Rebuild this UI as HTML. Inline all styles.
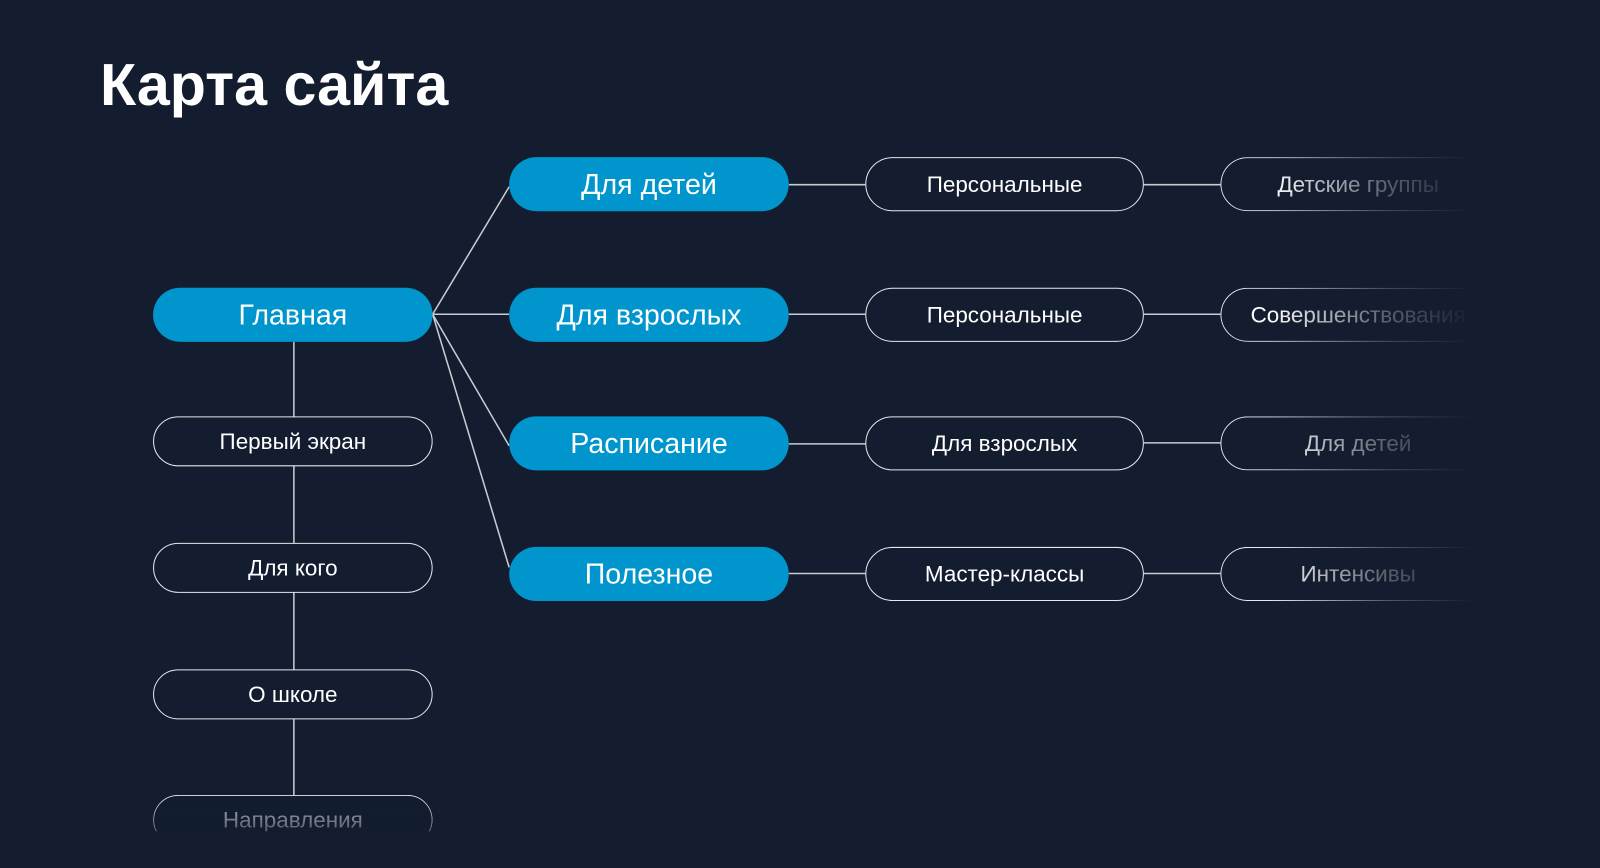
<!DOCTYPE html>
<html><head><meta charset="utf-8"><style>
html,body{margin:0;padding:0;background:#131d2f;width:1600px;height:868px;overflow:hidden}
#w{position:absolute;left:0;top:0;width:1568px;height:851px;transform:scale(1.0204);transform-origin:0 0;font-family:"Liberation Sans",sans-serif;color:#fff}
h1{position:absolute;left:98px;top:50px;margin:0;font-size:58px;font-weight:bold;letter-spacing:0}
.p{position:absolute;box-sizing:border-box;border-radius:27px;display:flex;align-items:center;justify-content:center;white-space:nowrap}
.f{background:#0095cc;font-size:28px}
.o{border:1.5px solid #e6e8ec;font-size:22px;background:#131d2f}
.c1{left:150px;width:274px}
.c2{left:499px;width:274px;height:53px}
.c3{left:848px;width:273px;height:53px}
.c4{left:1196px;width:270px;height:53px;background:transparent;-webkit-mask-image:linear-gradient(90deg,#000 18%,rgba(0,0,0,.3) 60%,transparent 92%);mask-image:linear-gradient(90deg,#000 18%,rgba(0,0,0,.3) 60%,transparent 92%)}
svg{position:absolute;left:0;top:0}
</style></head><body><div id="w">
<h1>Карта сайта</h1>
<svg width="1568" height="851"><g stroke="#c9ccd2" stroke-width="1.5" fill="none">
<line x1="288" y1="335" x2="288" y2="780"/>
<line x1="424" y1="308" x2="499" y2="183"/>
<line x1="424" y1="308" x2="499" y2="308"/>
<line x1="424" y1="308" x2="499" y2="437"/>
<line x1="424" y1="308" x2="499" y2="556"/>
<line x1="773" y1="181" x2="848" y2="181"/><line x1="1121" y1="181" x2="1196" y2="181"/>
<line x1="773" y1="308" x2="848" y2="308"/><line x1="1121" y1="308" x2="1196" y2="308"/>
<line x1="773" y1="435" x2="848" y2="435"/><line x1="1121" y1="434" x2="1196" y2="434"/>
<line x1="773" y1="562" x2="848" y2="562"/><line x1="1121" y1="562" x2="1196" y2="562"/>
</g></svg>
<div class="p f c1" style="top:282px;height:53px">Главная</div>
<div class="p o c1" style="top:408px;height:49px">Первый экран</div>
<div class="p o c1" style="top:532px;height:49px">Для кого</div>
<div class="p o c1" style="top:656px;height:49px">О школе</div>
<div class="p o c1" style="top:779px;height:49px;-webkit-mask-image:linear-gradient(180deg,#000 0%,rgba(0,0,0,.6) 50%,rgba(0,0,0,.4) 72%,transparent 74%);mask-image:linear-gradient(180deg,#000 0%,rgba(0,0,0,.6) 50%,rgba(0,0,0,.4) 72%,transparent 74%);color:#b8bcc4">Направления</div>
<div class="p f c2" style="top:154px">Для детей</div>
<div class="p f c2" style="top:282px">Для взрослых</div>
<div class="p f c2" style="top:408px">Расписание</div>
<div class="p f c2" style="top:536px">Полезное</div>
<div class="p o c3" style="top:154px">Персональные</div>
<div class="p o c3" style="top:282px">Персональные</div>
<div class="p o c3" style="top:408px">Для взрослых</div>
<div class="p o c3" style="top:536px">Мастер-классы</div>
<div class="p o c4" style="top:154px">Детские группы</div>
<div class="p o c4" style="top:282px">Совершенствования</div>
<div class="p o c4" style="top:408px">Для детей</div>
<div class="p o c4" style="top:536px">Интенсивы</div>
</div></body></html>
